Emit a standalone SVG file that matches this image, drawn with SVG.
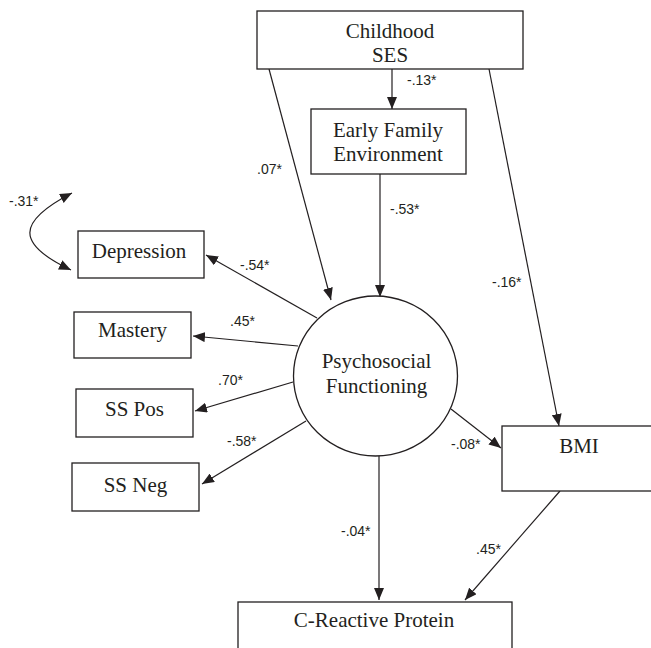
<svg xmlns="http://www.w3.org/2000/svg" width="651" height="648" viewBox="0 0 651 648">
<defs>
<style>
.box{fill:#fff;stroke:#231f20;stroke-width:1.3}
.n{font-family:"Liberation Serif","Times New Roman",serif;font-size:21px;fill:#231f20;text-anchor:middle}
.c{font-family:"Liberation Sans",Arial,sans-serif;font-size:14px;fill:#231f20}
.e{fill:none;stroke:#231f20;stroke-width:1.2;marker-end:url(#ah)}
</style>
<marker id="ah" markerUnits="userSpaceOnUse" markerWidth="12" markerHeight="10" refX="12" refY="5" orient="auto-start-reverse">
<path d="M0,0 L12,5 L0,10 z" fill="#231f20"/>
</marker>
</defs>
<rect width="651" height="648" fill="#fff"/>
<g id="connectors">
<path class="e" d="M392,69 L392,109"/>
<path class="e" d="M269,69 L331,300"/>
<path class="e" d="M489,69 L559,426"/>
<path class="e" d="M380,174 L380,297"/>
<path class="e" d="M317,318 L206,255"/>
<path class="e" d="M298,346 L193,336"/>
<path class="e" d="M293,382 L195,411"/>
<path class="e" d="M306,421 L202,484"/>
<path class="e" d="M451,409 L501,448"/>
<path class="e" d="M379,456 L379,600"/>
<path class="e" d="M560,491 L465,600"/>
<path class="e" d="M72,193 C16,222 16,244 71,270" style="marker-start:url(#ah)"/>
<text class="c" x="407" y="85">-.13*</text>
<text class="c" x="257" y="174">.07*</text>
<text class="c" x="390" y="214">-.53*</text>
<text class="c" x="492" y="287">-.16*</text>
<text class="c" x="9" y="206">-.31*</text>
<text class="c" x="240" y="270">-.54*</text>
<text class="c" x="230" y="326">.45*</text>
<text class="c" x="218" y="385">.70*</text>
<text class="c" x="227" y="446">-.58*</text>
<text class="c" x="451" y="449">-.08*</text>
<text class="c" x="341" y="536">-.04*</text>
<text class="c" x="476" y="554">.45*</text>
</g>
<g id="ses">
<rect class="box" x="257" y="11" width="266" height="58"/>
<text class="n" x="390" y="38">Childhood</text>
<text class="n" x="390" y="62">SES</text>
</g>
<g id="efe">
<rect class="box" x="311" y="109" width="155" height="65"/>
<text class="n" x="388" y="137">Early Family</text>
<text class="n" x="388" y="161">Environment</text>
</g>
<g id="psych">
<ellipse cx="375.5" cy="376" rx="82" ry="80" fill="#fff" stroke="#231f20" stroke-width="1.3"/>
<text class="n" x="376.5" y="368">Psychosocial</text>
<text class="n" x="376.5" y="393">Functioning</text>
</g>
<g id="depression">
<rect class="box" x="78" y="231" width="126" height="47"/>
<text class="n" x="139" y="258">Depression</text>
</g>
<g id="mastery">
<rect class="box" x="74" y="312" width="117" height="46"/>
<text class="n" x="132.5" y="337">Mastery</text>
</g>
<g id="sspos">
<rect class="box" x="76" y="389" width="117" height="48"/>
<text class="n" x="134.5" y="416">SS Pos</text>
</g>
<g id="ssneg">
<rect class="box" x="72" y="463" width="127" height="48"/>
<text class="n" x="135.5" y="492">SS Neg</text>
</g>
<g id="bmi">
<rect class="box" x="502" y="426" width="160" height="65"/>
<text class="n" x="579" y="453">BMI</text>
</g>
<g id="crp">
<rect class="box" x="238" y="602" width="274" height="60"/>
<text class="n" x="374" y="627">C-Reactive Protein</text>
</g>
</svg>
